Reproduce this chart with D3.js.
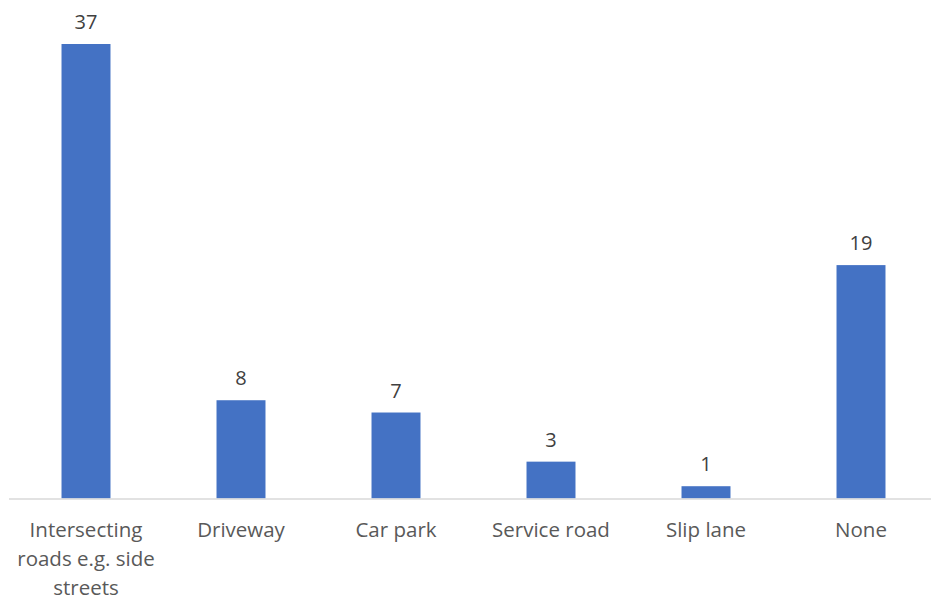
<!DOCTYPE html>
<html><head><meta charset="utf-8">
<script src="https://cdn.jsdelivr.net/npm/d3@7"></script>
<style>body{margin:0;background:#fff}svg{display:block}</style>
</head><body>
<script>
const categories = [["Intersecting","roads e.g. side","streets"],["Driveway"],["Car park"],["Service road"],["Slip lane"],["None"]];
const values = [37, 8, 7, 3, 1, 19];

const W = 931, H = 603;
const svg = d3.select("body").append("svg").attr("width", W).attr("height", H);
const keys = categories.map((c,i)=>i);
const x = d3.scaleBand().domain(keys).range([8.5, 938.5]).paddingInner(0.684).paddingOuter(0.342);
const y = d3.scaleLinear().domain([0, 37]).range([498.5, 44]);

svg.append("g").selectAll("rect").data(values).join("rect")
  .attr("x", (d,i)=>x(i)).attr("width", x.bandwidth())
  .attr("y", d=>y(d)).attr("height", d=>y(0)-y(d))
  .attr("fill", "#4472C4");

const axis = svg.append("g").attr("transform", `translate(0,${y(0)})`)
  .call(d3.axisBottom(x).tickSize(0).tickFormat(""));
axis.select(".domain").attr("stroke", "#D9D9D9").attr("stroke-width", 1.3);

const font = "'Open Sans', 'Liberation Sans', sans-serif";
svg.append("g").selectAll("text").data(values).join("text")
  .attr("x", (d,i)=>x(i)+x.bandwidth()/2).attr("y", d=>y(d)-15)
  .attr("text-anchor","middle").attr("font-family", font).attr("font-size", 20)
  .attr("fill", "#404040").text(d=>d);

const lab = svg.append("g").selectAll("text").data(categories).join("text")
  .attr("text-anchor","middle").attr("font-family", font).attr("font-size", 20.5)
  .attr("fill", "#595959");
lab.each(function(c,i){
  const t = d3.select(this);
  c.forEach((line,j)=>{
    t.append("tspan").attr("x", x(i)+x.bandwidth()/2).attr("y", 537 + j*29).text(line);
  });
});
</script>
</body></html>
